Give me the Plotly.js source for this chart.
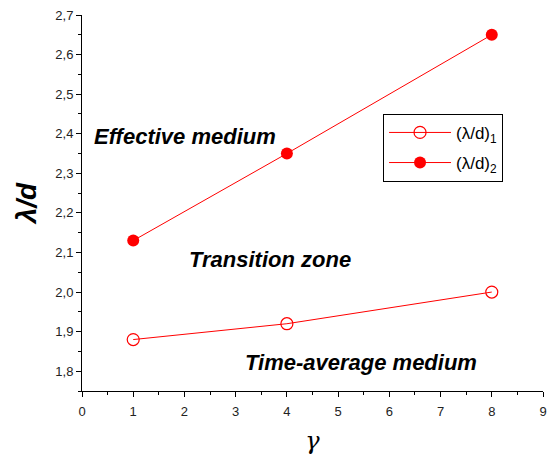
<!DOCTYPE html>
<html><head><meta charset="utf-8">
<script src="https://cdn.plot.ly/plotly-3.0.1.min.js"></script>
<style>html,body{margin:0;padding:0;background:#fff;}</style>
</head><body>
<div id="chart" style="width:547px;height:461px;"></div>
<script>
const gamma = [1, 4, 8];
const ratio1 = [1.88, 1.92, 2.00];
const ratio2 = [2.13, 2.35, 2.65];
const seriesNames = ['(λ/d)<sub>1</sub>', '(λ/d)<sub>2</sub>'];
const zoneLabels = ['Effective medium', 'Transition zone', 'Time-average medium'];
const zoneX = [0.195, 2.05, 3.14];
const zoneY = [2.393, 2.083, 1.823];

const red = '#ff0000';
const traces = [
  {x: gamma, y: ratio1, name: seriesNames[0], legendgroup: 'a', mode: 'lines+markers',
   line: {color: red, width: 1}, marker: {symbol: 'circle-open', size: 12, color: red, line: {width: 1.2, color: red}}},
  {x: gamma, y: ratio2, name: seriesNames[1], legendgroup: 'b', mode: 'lines+markers',
   line: {color: red, width: 1}, marker: {symbol: 'circle', size: 12, color: red}}
];
const axFont = {family: 'Liberation Sans, Arial, sans-serif', size: 13, color: '#222'};
const layout = {
  width: 547, height: 461,
  margin: {l: 82, r: 4, t: 15, b: 70},
  separators: ', ',
  paper_bgcolor: '#fff', plot_bgcolor: '#fff',
  showlegend: true,
  legend: {x: 0.653, y: 0.737, xanchor: 'left', yanchor: 'top', bordercolor: '#000', borderwidth: 1,
           bgcolor: '#fff', font: {family: 'Liberation Sans, Arial, sans-serif', size: 17, color: '#000'},
           tracegroupgap: 5, itemwidth: 62},
  xaxis: {range: [0, 9], dtick: 1, tick0: 0, showgrid: false, zeroline: false, showline: true, linecolor: '#000', linewidth: 1,
          ticks: 'outside', ticklen: 5, tickcolor: '#000', tickfont: axFont, ticklabelstandoff: 3,
          minor: {dtick: 0.5, ticks: 'outside', ticklen: 3, tickcolor: '#000'},
          title: {text: 'γ', font: {family: 'DejaVu Serif, serif', size: 24, style: 'italic', color: '#000'}, standoff: 14}},
  yaxis: {range: [1.75, 2.7], dtick: 0.1, tick0: 1.8, showgrid: false, zeroline: false, showline: true, linecolor: '#000', linewidth: 1,
          ticks: 'outside', ticklen: 5, tickcolor: '#000', tickfont: axFont, tickformat: '.1f',
          minor: {dtick: 0.05, ticks: 'outside', ticklen: 3, tickcolor: '#000'},
          title: {text: 'λ/d', font: {family: 'Liberation Sans, Arial, sans-serif', size: 28, weight: 'bold', style: 'italic', color: '#000'}, standoff: 10}},
  annotations: zoneLabels.map((t, i) => ({
    x: zoneX[i], y: zoneY[i], xref: 'x', yref: 'y', xanchor: 'left', yanchor: 'middle', showarrow: false,
    text: t, font: {family: 'Liberation Sans, Arial, sans-serif', size: 22, weight: 'bold', style: 'italic', color: '#000'}
  }))
};
Plotly.newPlot('chart', traces, layout, {displayModeBar: false});
</script>
</body></html>
